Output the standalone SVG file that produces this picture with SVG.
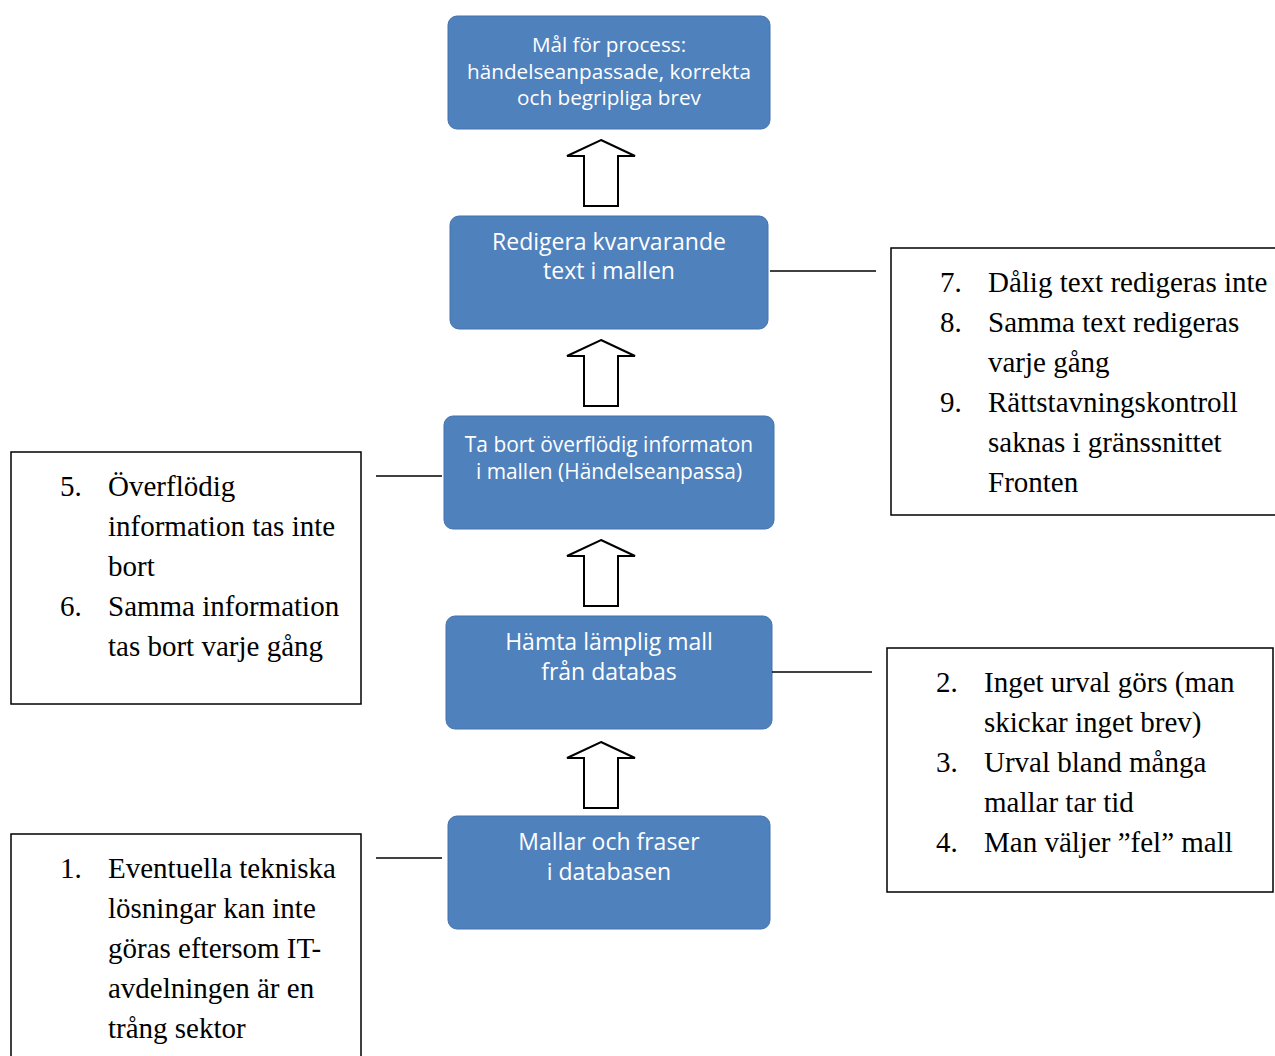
<svg xmlns="http://www.w3.org/2000/svg" width="1275" height="1056" viewBox="0 0 1275 1056">
<style>
.node rect{fill:#4F81BD;stroke:#4573AD;stroke-width:1}
.nt{font-family:"Open Sans","Liberation Sans",sans-serif;fill:#fff;text-anchor:middle}
.box{fill:#fff;stroke:#000;stroke-width:1.5}
.lt{font-family:"Liberation Serif","Times New Roman",serif;font-size:29px;fill:#000}
.conn line{stroke:#000;stroke-width:1.5}
.conn path{fill:#fff;stroke:#000;stroke-width:2;stroke-linejoin:miter}
</style>
<rect width="1275" height="1056" fill="#fff"/>
<g id="goal" class="node"><rect x="448" y="16" width="322" height="113" rx="9"/>
<text class="nt" font-size="20.7" x="609" y="52">Mål för process:</text>
<text class="nt" font-size="20.7" x="609" y="79">händelseanpassade, korrekta</text>
<text class="nt" font-size="20.7" x="609" y="105">och begripliga brev</text></g>
<g id="redigera" class="node"><rect x="450" y="216" width="318" height="113" rx="9"/>
<text class="nt" font-size="23" x="609" y="250">Redigera kvarvarande</text>
<text class="nt" font-size="23" x="609" y="279">text i mallen</text></g>
<g id="tabort" class="node"><rect x="444" y="416" width="330" height="113" rx="9"/>
<text class="nt" font-size="20.9" x="609" y="452">Ta bort överflödig informaton</text>
<text class="nt" font-size="20.9" x="609" y="479">i mallen (Händelseanpassa)</text></g>
<g id="hamta" class="node"><rect x="446" y="616" width="326" height="113" rx="9"/>
<text class="nt" font-size="23" x="609" y="650">Hämta lämplig mall</text>
<text class="nt" font-size="23" x="609" y="680">från databas</text></g>
<g id="mallar" class="node"><rect x="448" y="816" width="322" height="113" rx="9"/>
<text class="nt" font-size="23" x="609" y="850">Mallar och fraser</text>
<text class="nt" font-size="23" x="609" y="880">i databasen</text></g>

<g id="issues-7-9"><rect class="box" x="891" y="248" width="390" height="267"/>
<text class="lt" x="940" y="292">7.</text><text class="lt" x="988" y="292">Dålig text redigeras inte</text>
<text class="lt" x="940" y="332">8.</text><text class="lt" x="988" y="332">Samma text redigeras</text>
<text class="lt" x="988" y="372">varje gång</text>
<text class="lt" x="940" y="412">9.</text><text class="lt" x="988" y="412">Rättstavningskontroll</text>
<text class="lt" x="988" y="452">saknas i gränssnittet</text>
<text class="lt" x="988" y="492">Fronten</text></g>

<g id="issues-5-6"><rect class="box" x="11" y="452" width="350" height="252"/>
<text class="lt" x="60" y="496">5.</text><text class="lt" x="108" y="496">Överflödig</text>
<text class="lt" x="108" y="536">information tas inte</text>
<text class="lt" x="108" y="576">bort</text>
<text class="lt" x="60" y="616">6.</text><text class="lt" x="108" y="616">Samma information</text>
<text class="lt" x="108" y="656">tas bort varje gång</text></g>

<g id="issues-2-4"><rect class="box" x="887" y="648" width="386" height="244"/>
<text class="lt" x="936" y="692">2.</text><text class="lt" x="984" y="692">Inget urval görs (man</text>
<text class="lt" x="984" y="732">skickar inget brev)</text>
<text class="lt" x="936" y="772">3.</text><text class="lt" x="984" y="772">Urval bland många</text>
<text class="lt" x="984" y="812">mallar tar tid</text>
<text class="lt" x="936" y="852">4.</text><text class="lt" x="984" y="852">Man väljer ”fel” mall</text></g>

<g id="issues-1"><rect class="box" x="11" y="834" width="350" height="240"/>
<text class="lt" x="60" y="878">1.</text><text class="lt" x="108" y="878">Eventuella tekniska</text>
<text class="lt" x="108" y="918">lösningar kan inte</text>
<text class="lt" x="108" y="958">göras eftersom IT-</text>
<text class="lt" x="108" y="998">avdelningen är en</text>
<text class="lt" x="108" y="1038">trång sektor</text></g>

<g id="connectors" class="conn">
<path d="M601,140 L635,156 L618,156 L618,206 L584,206 L584,156 L567,156 Z"/>
<path d="M601,340 L635,356 L618,356 L618,406 L584,406 L584,356 L567,356 Z"/>
<path d="M601,540 L635,556 L618,556 L618,606 L584,606 L584,556 L567,556 Z"/>
<path d="M601,742 L635,758 L618,758 L618,808 L584,808 L584,758 L567,758 Z"/>
<line x1="770" y1="271" x2="876" y2="271"/>
<line x1="376" y1="476" x2="442" y2="476"/>
<line x1="772" y1="672" x2="872" y2="672"/>
<line x1="376" y1="858" x2="442" y2="858"/>
</g>
</svg>
